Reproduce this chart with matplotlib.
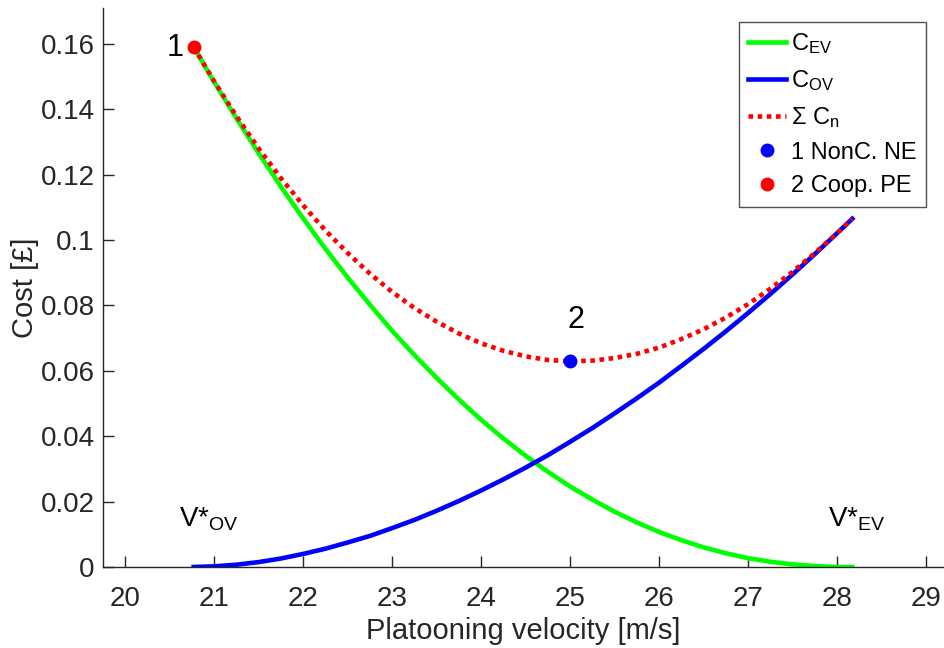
import numpy as np
import matplotlib
matplotlib.use('Agg')
import matplotlib.pyplot as plt
from matplotlib.ticker import FormatStrFormatter

plt.rcParams['font.family'] = ['Liberation Sans', 'DejaVu Sans']
plt.rcParams['mathtext.fontset'] = 'custom'
plt.rcParams['mathtext.rm'] = 'Liberation Sans'
plt.rcParams['mathtext.it'] = 'Liberation Sans:italic'

# values
velocity = [20.77, 21.0, 21.25, 21.5, 21.75, 22.0, 22.25, 22.5, 22.75, 23.0,
            23.25, 23.5, 23.75, 24.0, 24.25, 24.5, 24.75, 25.0, 25.25, 25.5,
            25.75, 26.0, 26.25, 26.5, 26.75, 27.0, 27.25, 27.5, 27.75, 28.0, 28.17]
cost_ev = [0.1590, 0.1483, 0.1372, 0.1265, 0.1163, 0.1066, 0.0973, 0.0885, 0.0802, 0.0722,
           0.0648, 0.0578, 0.0512, 0.0450, 0.0393, 0.0340, 0.0291, 0.0246, 0.0206, 0.0169,
           0.0136, 0.0107, 0.0082, 0.0060, 0.0042, 0.0027, 0.0016, 0.0008, 0.0003, 0.0000, 0.0000]
cost_ov = [0.0000, 0.0002, 0.0007, 0.0015, 0.0026, 0.0040, 0.0056, 0.0075, 0.0095, 0.0119,
           0.0144, 0.0172, 0.0202, 0.0234, 0.0268, 0.0304, 0.0342, 0.0383, 0.0425, 0.0470,
           0.0516, 0.0564, 0.0615, 0.0667, 0.0721, 0.0777, 0.0835, 0.0895, 0.0957, 0.1021, 0.1065]
ne_point = (25.0, 0.063)
pe_point = (20.77, 0.159)

cost_sum = np.array(cost_ev) + np.array(cost_ov)

dark = '#262626'
fig = plt.figure(figsize=(9.44, 6.48), dpi=100)
ax = fig.add_axes([0.109, 0.125, 0.891, 0.863])

ax.plot(velocity, cost_ev, color='#00ff00', lw=3.3, label=r'C$_{\mathregular{EV}}$')
ax.plot(velocity, cost_ov, color='#0000ff', lw=3.3, label=r'C$_{\mathregular{OV}}$')
ax.plot(velocity, cost_sum, color='#ff0000', lw=3.3, linestyle=(0, (1, 1)),
        dash_capstyle='butt', label=r'Σ C$_{\mathregular{n}}$')
ax.plot(*ne_point, 'o', color='#0000ff', ms=9, label='1 NonC. NE')
ax.plot(*pe_point, 'o', color='#ff0000', ms=9, label='2 Coop. PE')

ax.text(20.66, 0.1588, '1', fontsize=22, ha='right', va='center')
ax.text(25.06, 0.0755, '2', fontsize=22, ha='center', va='center')
ax.text(20.6, 0.0125, r'V*$_{\mathregular{OV}}$', fontsize=20, ha='left', va='baseline')
ax.text(27.9, 0.0125, r'V*$_{\mathregular{EV}}$', fontsize=20, ha='left', va='baseline')

ax.set_xlim(19.75, 29.2)
ax.set_ylim(0, 0.171)
ax.set_xticks(range(20, 30))
ax.set_yticks(np.arange(0, 0.161, 0.02))
ax.yaxis.set_major_formatter(FormatStrFormatter('%g'))
ax.tick_params(direction='in', length=8, width=1, colors=dark, labelsize=20)
ax.tick_params(axis='x', pad=14)
ax.tick_params(axis='y', pad=6)
for s in ['top', 'right']:
    ax.spines[s].set_visible(False)
for s in ['left', 'bottom']:
    ax.spines[s].set_color(dark)
    ax.spines[s].set_linewidth(1)

ax.set_xlabel('Platooning velocity [m/s]', fontsize=21, color=dark, labelpad=3)
ax.set_ylabel('Cost [£]', fontsize=21, color=dark, labelpad=1)

leg = ax.legend(loc='upper right', bbox_to_anchor=(0.981, 0.966),
                bbox_transform=fig.transFigure, fontsize=17, fancybox=False,
                edgecolor=dark, handlelength=1.6, handletextpad=0.2,
                labelspacing=0.5, borderpad=0.4, borderaxespad=0)
leg.get_frame().set_linewidth(1)

fig.savefig('out.png', dpi=100)
